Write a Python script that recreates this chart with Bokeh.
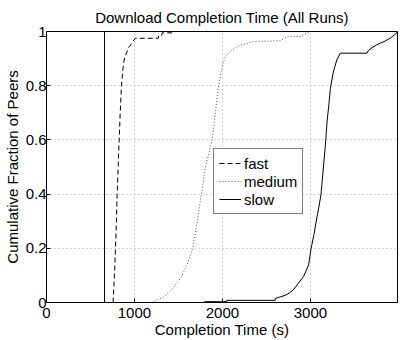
from bokeh.plotting import figure
from bokeh.models import Range1d, FixedTicker, CustomJSTickFormatter
from bokeh.embed import file_html
from bokeh.resources import INLINE

# ---- data ----
fast_t = [757, 765, 775, 784, 795, 803, 815, 826, 838, 852, 865, 879, 895, 909,
          930, 955, 985, 1011, 1270, 1275, 1310, 1315, 1440]
fast_f = [0, 0.05, 0.12, 0.2, 0.3, 0.4, 0.5, 0.6, 0.7, 0.8, 0.85, 0.89, 0.91, 0.92,
          0.94, 0.95, 0.965, 0.975, 0.975, 0.985, 0.985, 0.995, 0.995]

medium_t = [1200, 1260, 1330, 1380, 1428, 1490, 1542, 1610, 1663, 1715, 1761, 1807,
            1845, 1883, 1920, 1955, 1985, 2008, 2034, 2070, 2110, 2160, 2205, 2280,
            2352, 2500, 2659, 2700, 2735, 2886, 2930, 2977, 3000]
medium_f = [0, 0.01, 0.02, 0.035, 0.05, 0.075, 0.1, 0.15, 0.2, 0.3, 0.4, 0.5,
            0.55, 0.6, 0.7, 0.8, 0.85, 0.884, 0.908, 0.92, 0.932, 0.942, 0.95, 0.955,
            0.963, 0.964, 0.966, 0.975, 0.98, 0.982, 0.99, 0.995, 1.0]

slow_t = [1795, 2050, 2050, 2600, 2600, 2650, 2700, 2735, 2760, 2810, 2860, 2923,
          2980, 3008, 3040, 3068, 3095, 3121, 3148, 3170, 3190, 3210, 3227, 3260,
          3300, 3340, 3644, 3660, 3700, 3750, 3795, 3850, 3909, 3966, 3990]
slow_f = [0.003, 0.003, 0.008, 0.008, 0.015, 0.02, 0.025, 0.03, 0.035, 0.048, 0.07,
          0.096, 0.139, 0.2, 0.25, 0.304, 0.35, 0.4, 0.5, 0.58, 0.67, 0.73, 0.79,
          0.85, 0.895, 0.92, 0.92, 0.93, 0.94, 0.95, 0.957, 0.965, 0.976, 0.99, 1.0]

vline_t = [660, 660]
vline_f = [0, 1]

x_ticks = [0, 1000, 2000, 3000]
y_ticks = [0, 0.2, 0.4, 0.6, 0.8, 1.0]

FONT = "Liberation Sans"
FS = "15px"

p = figure(width=398, height=340, x_range=Range1d(0, 3990), y_range=Range1d(0, 1),
           output_backend="svg", toolbar_location=None,
           title="Download Completion Time (All Runs)",
           min_border_left=46, min_border_right=1, min_border_top=30, min_border_bottom=37)

p.title.align = "center"
p.title.text_font = FONT
p.title.text_font_size = FS
p.title.text_font_style = "normal"
p.title.text_color = "black"
p.title.standoff = 12

for ax in (p.xaxis[0], p.yaxis[0]):
    ax.major_label_text_font = FONT
    ax.major_label_text_font_size = FS
    ax.major_label_text_color = "black"
    ax.axis_label_text_font = FONT
    ax.axis_label_text_font_size = FS
    ax.axis_label_text_font_style = "normal"
    ax.axis_label_text_color = "black"
    ax.axis_line_color = "black"
    ax.major_tick_line_color = "black"
    ax.major_tick_in = 4
    ax.major_tick_out = 0
    ax.minor_tick_line_color = None
    ax.axis_label_standoff = 0

p.xaxis.axis_label = "Completion Time (s)"
p.yaxis.axis_label = "Cumulative Fraction of Peers"
p.xaxis.major_label_standoff = 5
p.yaxis.major_label_standoff = 0
p.yaxis.axis_label_standoff = 2
p.xaxis.ticker = FixedTicker(ticks=x_ticks)
p.yaxis.ticker = FixedTicker(ticks=y_ticks)
p.yaxis.formatter = CustomJSTickFormatter(
    code="return (Math.abs(tick) < 1e-9 || Math.abs(tick - 1) < 1e-9) ? tick.toFixed(0) : tick.toFixed(1);")

for g in (p.xgrid[0], p.ygrid[0]):
    g.grid_line_color = "#a8a8a8"
    g.grid_line_dash = "1 3"
    g.grid_line_width = 1

p.outline_line_color = "black"
p.outline_line_alpha = 1
p.background_fill_color = "white"
p.border_fill_color = "white"

p.line(fast_t, fast_f, color="black", line_width=1, line_dash="5 3", legend_label="fast")
p.line(medium_t, medium_f, color="#555555", line_width=1, line_dash="1 2", legend_label="medium")
p.line(slow_t, slow_f, color="black", line_width=1, legend_label="slow")

p.line(vline_t, vline_f, color="black", line_width=1)
p.scatter(vline_t, vline_f, marker="cross", size=5, color="black", line_width=1)

lg = p.legend[0]
lg.location = (167, 88)
lg.label_text_font = FONT
lg.label_text_font_size = FS
lg.label_text_color = "black"
lg.glyph_width = 22
lg.glyph_height = 18
lg.label_height = 18
lg.label_standoff = 3
lg.spacing = 0
lg.padding = 5
lg.margin = 0
lg.border_line_color = "black"
lg.border_line_width = 1
lg.background_fill_color = "white"
lg.background_fill_alpha = 1

open("out.html", "w").write(file_html(p, INLINE))
